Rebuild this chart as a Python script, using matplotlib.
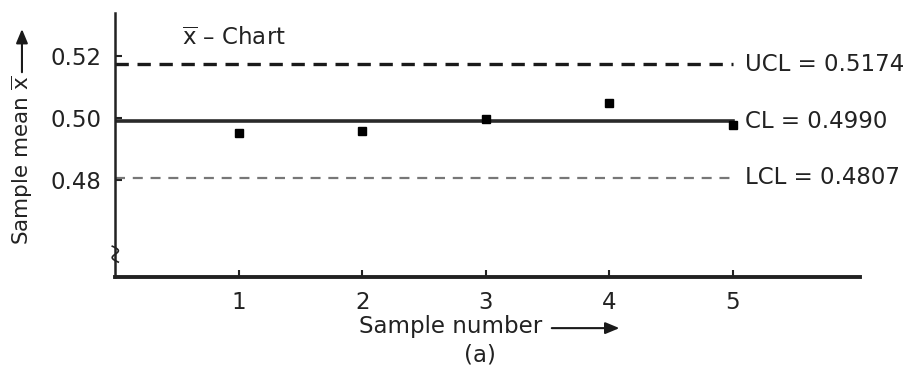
import numpy as np
import matplotlib
matplotlib.use("Agg")
import matplotlib.pyplot as plt

plt.rcParams['font.family'] = ['DejaVu Sans']
plt.rcParams['mathtext.fontset'] = 'dejavusans'

# data
samples = [1, 2, 3, 4, 5]
means = [0.4953, 0.4957, 0.4998, 0.5050, 0.4978]
ucl = 0.5174
cl = 0.4990
lcl = 0.4807
yticks = [0.48, 0.50, 0.52]
ytick_labels = ['0.48', '0.50', '0.52']

fs = 16.5
ink = '#222222'
fig = plt.figure(figsize=(9.15, 3.75), dpi=100)
ax = fig.add_axes([0.126, 0.261, 0.814, 0.704])

# control lines, drawn up to the last sample
ax.plot([0, samples[-1]], [ucl, ucl], color='#1a1a1a', lw=2.4, dashes=(4.0, 2.6))
ax.plot([0, samples[-1]], [cl, cl], color='#2a2a2a', lw=2.6)
ax.plot([0, samples[-1]], [lcl, lcl], color='#777777', lw=1.6, dashes=(4.5, 3.5))

ax.plot(samples, means, 's', color='black', markersize=6)

for val, name in [(ucl, 'UCL'), (cl, 'CL'), (lcl, 'LCL')]:
    ax.text(samples[-1] + 0.1, val, '%s = %.4f' % (name, val),
            fontsize=fs, va='center', ha='left', color=ink)

ax.set_xlim(0, 6.03)
ax.set_ylim(0.4487, 0.5339)
ax.set_xticks(samples)
ax.set_xticklabels([str(s) for s in samples])
ax.set_yticks(yticks)
ax.set_yticklabels(ytick_labels)
ax.tick_params(axis='both', direction='in', length=5, width=1.5, labelsize=fs,
               colors=ink, pad=10)

for side in ['top', 'right']:
    ax.spines[side].set_visible(False)
ax.spines['left'].set_linewidth(1.8)
ax.spines['bottom'].set_linewidth(2.8)
ax.spines['left'].set_color(ink)
ax.spines['bottom'].set_color(ink)

# axis break mark on the y axis
bt = np.linspace(-1, 1, 30)
ax.plot(0.0 + 0.006 * np.sin(bt * np.pi) - 0.004 * bt, 0.087 + 0.03 * bt,
        transform=ax.transAxes, color=ink, lw=1.2, clip_on=False)

ax.text(0.09, 0.905, r'$\overline{\mathrm{x}}$' + ' \u2013 Chart', transform=ax.transAxes,
        fontsize=fs, color=ink, ha='left', va='center')

# axis titles with arrows
fig.text(0.492, 0.128, 'Sample number', fontsize=fs, ha='center', va='center',
         color=ink)
fig.text(0.525, 0.052, '(a)', fontsize=fs, ha='center', va='center', color=ink)
fig.add_artist(matplotlib.patches.FancyArrowPatch(
    (0.6, 0.125), (0.68, 0.125), transform=fig.transFigure,
    arrowstyle='-|>,head_length=0.6,head_width=0.25', mutation_scale=14,
    color='#1a1a1a', lw=1.5))

fig.text(0.024, 0.573, r'Sample mean $\overline{\mathrm{x}}$', fontsize=15.5, rotation=90,
         ha='center', va='center', color=ink)
fig.add_artist(matplotlib.patches.FancyArrowPatch(
    (0.024, 0.8), (0.024, 0.93), transform=fig.transFigure,
    arrowstyle='-|>,head_length=0.6,head_width=0.25', mutation_scale=14,
    color='#1a1a1a', lw=1.5))

fig.savefig('out.png', dpi=100)
